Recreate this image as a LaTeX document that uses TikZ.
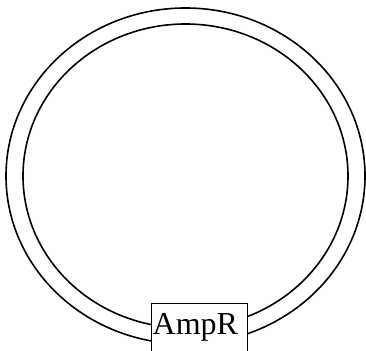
\documentclass[tikz,border=0pt]{standalone}
\usepackage{fontspec}
\setmainfont{Liberation Serif}
\begin{document}
\begin{tikzpicture}[x=1pt,y=1pt,
  ring/.style={draw=black, line width=1.6pt},
  genebox/.style={draw=black, line width=1.3pt, fill=white, minimum width=96pt, minimum height=80pt, inner sep=0pt},
  genelabel/.style={font=\fontsize{32}{36}\selectfont, inner sep=0pt}]
\clip (0,0) rectangle (366,350);
\coordinate (c) at (185.5,174);
\draw[ring] (c) ellipse[x radius=179.5, y radius=168];
\draw[ring] (c) ellipse[x radius=162.5, y radius=152];
\node[genebox, anchor=north west] (amp) at (151,47) {};
\node[genelabel, anchor=base west] (amplabel) at (152.5,15) {AmpR};
\end{tikzpicture}
\end{document}
